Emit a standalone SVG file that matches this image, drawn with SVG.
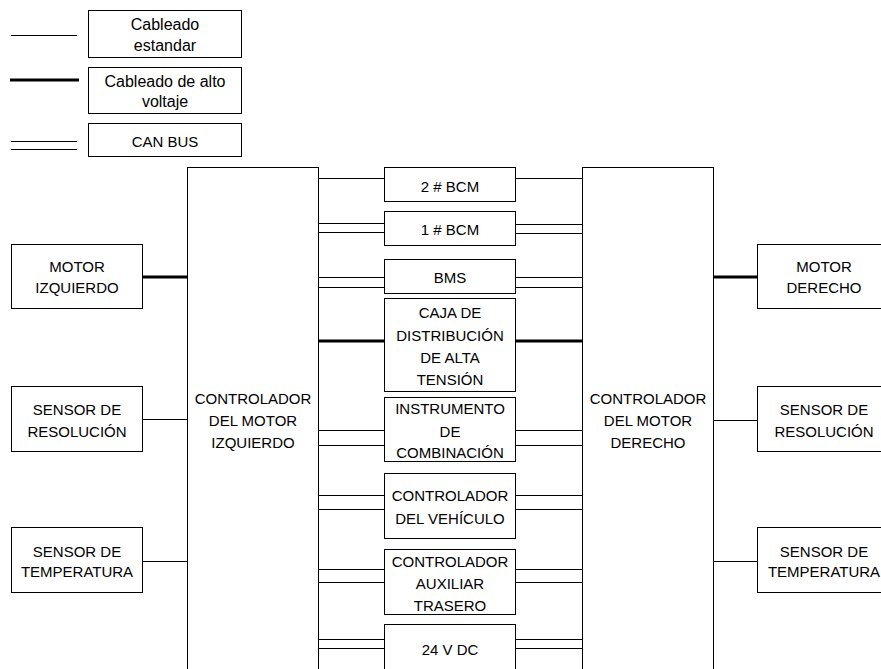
<svg xmlns="http://www.w3.org/2000/svg" width="881" height="669" viewBox="0 0 881 669">
<style>
rect{fill:#fff;stroke:#000;stroke-width:1}
text{font-family:"Liberation Sans",Arial,sans-serif;font-size:15px;fill:#000;text-anchor:middle}
.lg{font-size:16px}
.w{stroke:#000;stroke-width:1;fill:none}
.hv{stroke:#000;stroke-width:3;fill:none}
</style>
<rect x="0" y="0" width="881" height="669" style="stroke:none"/>
<g id="legend">
  <line class="w" x1="11" y1="35.5" x2="77" y2="35.5"/>
  <line class="hv" x1="10" y1="80" x2="79" y2="80"/>
  <line class="w" x1="11" y1="141.5" x2="77" y2="141.5"/>
  <line class="w" x1="11" y1="149.5" x2="77" y2="149.5"/>
  <rect x="88.5" y="10.5" width="153" height="47"/>
  <text class="lg" x="165" y="30">Cableado</text>
  <text class="lg" x="165" y="51">estandar</text>
  <rect x="88.5" y="67.5" width="153" height="46"/>
  <text class="lg" x="165" y="87">Cableado de alto</text>
  <text class="lg" x="165" y="107">voltaje</text>
  <rect x="88.5" y="123.5" width="153" height="33"/>
  <text x="165" y="147">CAN BUS</text>
</g>
<g id="connectors">
  <line class="hv" x1="143" y1="277" x2="187" y2="277"/>
  <line class="w" x1="143" y1="419.5" x2="187" y2="419.5"/>
  <line class="w" x1="143" y1="561.5" x2="187" y2="561.5"/>
  <line class="hv" x1="713" y1="277" x2="757" y2="277"/>
  <line class="w" x1="713" y1="420.5" x2="757" y2="420.5"/>
  <line class="w" x1="713" y1="561.5" x2="757" y2="561.5"/>
  <line class="w" x1="318" y1="178.5" x2="384" y2="178.5"/>
  <line class="w" x1="516" y1="178.5" x2="582" y2="178.5"/>
  <line class="w" x1="318" y1="223.5" x2="384" y2="223.5"/>
  <line class="w" x1="318" y1="232.5" x2="384" y2="232.5"/>
  <line class="w" x1="516" y1="224.5" x2="582" y2="224.5"/>
  <line class="w" x1="516" y1="233.5" x2="582" y2="233.5"/>
  <line class="w" x1="318" y1="277.5" x2="384" y2="277.5"/>
  <line class="w" x1="318" y1="287.5" x2="384" y2="287.5"/>
  <line class="w" x1="516" y1="277.5" x2="582" y2="277.5"/>
  <line class="w" x1="516" y1="287.5" x2="582" y2="287.5"/>
  <line class="hv" x1="318" y1="341" x2="384" y2="341"/>
  <line class="hv" x1="516" y1="341" x2="582" y2="341"/>
  <line class="w" x1="318" y1="430.5" x2="384" y2="430.5"/>
  <line class="w" x1="318" y1="445.5" x2="384" y2="445.5"/>
  <line class="w" x1="516" y1="430.5" x2="582" y2="430.5"/>
  <line class="w" x1="516" y1="445.5" x2="582" y2="445.5"/>
  <line class="w" x1="318" y1="495.5" x2="384" y2="495.5"/>
  <line class="w" x1="318" y1="509.5" x2="384" y2="509.5"/>
  <line class="w" x1="516" y1="495.5" x2="582" y2="495.5"/>
  <line class="w" x1="516" y1="509.5" x2="582" y2="509.5"/>
  <line class="w" x1="318" y1="569.5" x2="384" y2="569.5"/>
  <line class="w" x1="318" y1="582.5" x2="384" y2="582.5"/>
  <line class="w" x1="516" y1="569.5" x2="582" y2="569.5"/>
  <line class="w" x1="516" y1="582.5" x2="582" y2="582.5"/>
  <line class="w" x1="318" y1="639.5" x2="384" y2="639.5"/>
  <line class="w" x1="318" y1="648.5" x2="384" y2="648.5"/>
  <line class="w" x1="516" y1="639.5" x2="582" y2="639.5"/>
  <line class="w" x1="516" y1="648.5" x2="582" y2="648.5"/>
</g>
<g id="ctrl-izq">
  <rect x="187.5" y="167.5" width="131" height="520"/>
  <text x="253" y="404">CONTROLADOR</text>
  <text x="253" y="426">DEL MOTOR</text>
  <text x="253" y="448">IZQUIERDO</text>
</g>
<g id="ctrl-der">
  <rect x="582.5" y="167.5" width="131" height="520"/>
  <text x="648" y="404">CONTROLADOR</text>
  <text x="648" y="426">DEL MOTOR</text>
  <text x="648" y="448">DERECHO</text>
</g>
<g id="motor-izq">
  <rect x="11.5" y="244.5" width="131" height="64"/>
  <text x="77" y="272">MOTOR</text>
  <text x="77" y="293">IZQUIERDO</text>
</g>
<g id="sensor-res-izq">
  <rect x="11.5" y="386.5" width="131" height="65"/>
  <text x="77" y="415">SENSOR DE</text>
  <text x="77" y="437">RESOLUCIÓN</text>
</g>
<g id="sensor-temp-izq">
  <rect x="11.5" y="527.5" width="131" height="65"/>
  <text x="77" y="557">SENSOR DE</text>
  <text x="77" y="577">TEMPERATURA</text>
</g>
<g id="motor-der">
  <rect x="757.5" y="244.5" width="135" height="64"/>
  <text x="824" y="272">MOTOR</text>
  <text x="824" y="293">DERECHO</text>
</g>
<g id="sensor-res-der">
  <rect x="757.5" y="386.5" width="135" height="65"/>
  <text x="824" y="415">SENSOR DE</text>
  <text x="824" y="437">RESOLUCIÓN</text>
</g>
<g id="sensor-temp-der">
  <rect x="757.5" y="527.5" width="135" height="65"/>
  <text x="824" y="557">SENSOR DE</text>
  <text x="824" y="577">TEMPERATURA</text>
</g>
<g id="bcm2">
  <rect x="384.5" y="167.5" width="131" height="34"/>
  <text x="450" y="192">2 # BCM</text>
</g>
<g id="bcm1">
  <rect x="384.5" y="211.5" width="131" height="34"/>
  <text x="450" y="235">1 # BCM</text>
</g>
<g id="bms">
  <rect x="384.5" y="259.5" width="131" height="34"/>
  <text x="450" y="283">BMS</text>
</g>
<g id="caja">
  <rect x="384.5" y="298.5" width="131" height="93"/>
  <text x="450" y="318">CAJA DE</text>
  <text x="450" y="341">DISTRIBUCIÓN</text>
  <text x="450" y="363">DE ALTA</text>
  <text x="450" y="385">TENSIÓN</text>
</g>
<g id="instrumento">
  <rect x="384.5" y="397.5" width="131" height="64"/>
  <text x="450" y="414">INSTRUMENTO</text>
  <text x="450" y="437">DE</text>
  <text x="450" y="458">COMBINACIÓN</text>
</g>
<g id="ctrl-vehiculo">
  <rect x="384.5" y="473.5" width="131" height="65"/>
  <text x="450" y="501">CONTROLADOR</text>
  <text x="450" y="524">DEL VEHÍCULO</text>
</g>
<g id="ctrl-auxiliar">
  <rect x="384.5" y="549.5" width="131" height="65"/>
  <text x="450" y="567">CONTROLADOR</text>
  <text x="450" y="589">AUXILIAR</text>
  <text x="450" y="611">TRASERO</text>
</g>
<g id="dc24">
  <rect x="384.5" y="624.5" width="131" height="60"/>
  <text x="450" y="655">24 V DC</text>
</g>
</svg>
